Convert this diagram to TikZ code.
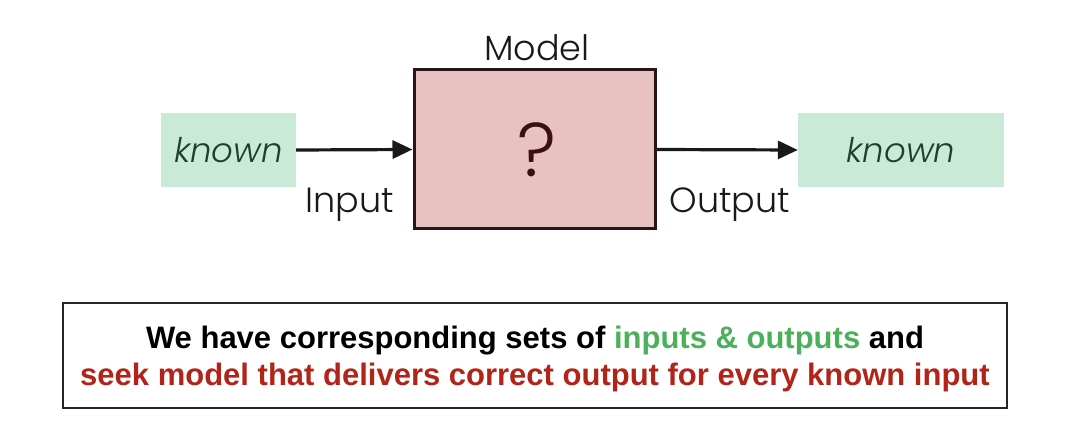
\documentclass[tikz,border=0pt]{standalone}
\usepackage{fontspec}
\setmainfont{Poppins}[UprightFont=* Light, ItalicFont=* Light Italic]
\newfontfamily\arialfont{Liberation Sans}
\usetikzlibrary{arrows.meta}
\definecolor{knownfill}{HTML}{C8EAD6}
\definecolor{knowntext}{HTML}{1E4028}
\definecolor{modelfill}{HTML}{E8C1C1}
\definecolor{modeldraw}{HTML}{2A1414}
\definecolor{qmark}{HTML}{3A1010}
\definecolor{goodgreen}{HTML}{4CAF5A}
\definecolor{badred}{HTML}{B2241A}
\tikzset{
  knownbox/.style={fill=knownfill, inner sep=0pt, font=\fontsize{34}{38}\selectfont\itshape, text=knowntext},
  modelbox/.style={fill=modelfill, draw=modeldraw, line width=3pt, inner sep=0pt, minimum width=241pt, minimum height=159pt},
  lbl/.style={font=\fontsize{35}{38}\selectfont, text=black!90, inner sep=0pt},
  arr/.style={line width=3.2pt, black!90, -{Triangle[length=20pt,width=18pt]}},
  notebox/.style={draw=black!85, line width=2.5pt, fill=white, inner sep=0pt, minimum width=944pt, minimum height=105pt, align=center, font=\arialfont\bfseries\fontsize{31}{37}\selectfont}
}
\begin{document}
\begin{tikzpicture}[x=1pt,y=-1pt]
\useasboundingbox (0,0) rectangle (1082,430);
\node[knownbox, minimum width=135pt, minimum height=74pt] (in) at (228.5,150) {known};
\node[modelbox] (model) at (534.5,149.5) {};
\node[font=\fontsize{76}{80}\selectfont, text=qmark, inner sep=0pt] (q) at (537,150) {?};
\node[knownbox, minimum width=206pt, minimum height=74pt] (out) at (901,150) {known};
\node[lbl] (modellbl) at (537,48) {Model};
\node[lbl] (inlbl) at (350,205) {Input};
\node[lbl] (outlbl) at (730,205) {Output};
\draw[arr] (in.east) -- (model.west);
\draw[arr] (model.east) -- (out.west);
\node[notebox] (note) at (535,355.5) {};
\node[align=center, font=\arialfont\bfseries\fontsize{31}{37}\selectfont, inner sep=0pt] (notetext) at (535,358.5) {We have corresponding sets of \textcolor{goodgreen}{inputs \& outputs} and\\\textcolor{badred}{seek model that delivers correct output for every known input}};
\end{tikzpicture}
\end{document}
